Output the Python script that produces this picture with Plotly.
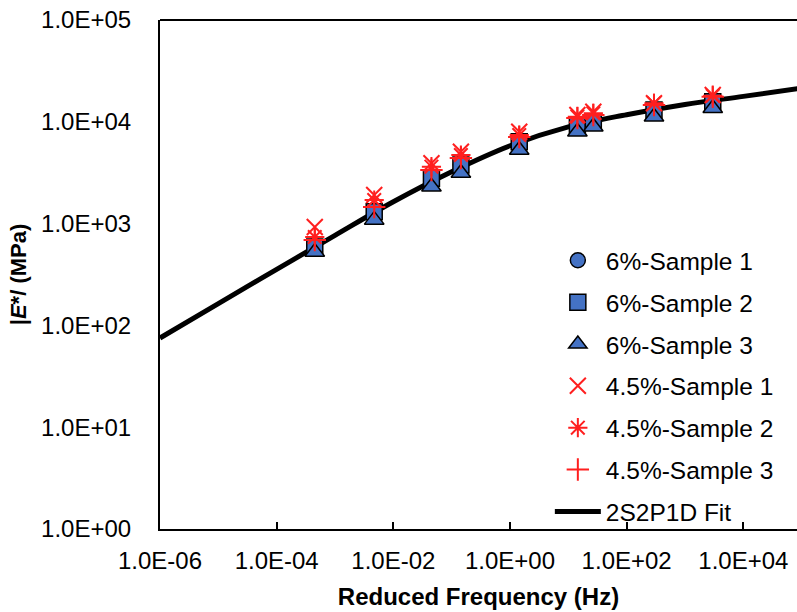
import plotly.graph_objects as go

# Reduced frequency (Hz) of the measured points
freq = [4.5e-4, 4.7e-3, 0.045, 0.144, 1.44, 14.3, 26.8, 294, 2990]

# |E*| (MPa) for each sample
e_6_s1 = [600, 1330, 2830, 3800, 6450, 9400, 10100, 13200, 15900]
e_6_s2 = [589, 1309, 2786, 3764, 6380, 9300, 10020, 13060, 15750]
e_6_s3 = [526, 1087, 2305, 3140, 5284, 8000, 8950, 11220, 13580]
e_45_s1 = [926, 1910, 3911, 5086, 7998, 11660, 12560, 15200, 18330]
e_45_s2 = [738, 1706, 3625, 4720, 7418, 11220, 12110, 15200, 18000]
e_45_s3 = [690, 1456, 3362, 4410, 7090, 10900, 11660, 14620, 17600]

# 2S2P1D fitted master curve
fit_freq = [1e-6, 1e-5, 1e-4, 1e-3, 1e-2, 1e-1, 1e0, 1e1, 1e2, 1e3, 1e4, 1e5]
fit_e = [75.2, 164, 355, 767, 1641, 3236, 5821, 8913, 11750, 14790, 17780, 21430]

x_ticks = [1e-6, 1e-4, 1e-2, 1e0, 1e2, 1e4]
x_ticktext = ["1.0E-06", "1.0E-04", "1.0E-02", "1.0E+00", "1.0E+02", "1.0E+04"]
y_ticks = [1, 10, 100, 1000, 10000, 100000]
y_ticktext = ["1.0E+00", "1.0E+01", "1.0E+02", "1.0E+03", "1.0E+04", "1.0E+05"]

FONT = "Liberation Sans, Arial, sans-serif"
BLUE = "#4472C4"
RED = "#FF1F1F"

fig = go.Figure()

fig.add_trace(go.Scatter(
    x=fit_freq, y=fit_e, mode="lines", name="2S2P1D Fit",
    line=dict(color="black", width=5, shape="spline"),
    legendgroup="fit", legendrank=2000,
))

blue_series = [
    ("6%-Sample 1", e_6_s1, "circle", 15),
    ("6%-Sample 2", e_6_s2, "square", 16),
    ("6%-Sample 3", e_6_s3, "triangle-up", 17),
]
for name, vals, sym, size in blue_series:
    fig.add_trace(go.Scatter(
        x=freq, y=vals, mode="markers", name=name, legendgroup=name,
        marker=dict(symbol=sym, size=size, color=BLUE,
                    line=dict(color="black", width=1.5)),
    ))

red_series = [
    ("4.5%-Sample 1", e_45_s1, "x-thin-open", 16),
    ("4.5%-Sample 2", e_45_s2, "asterisk-open", 16),
    ("4.5%-Sample 3", e_45_s3, "cross-thin-open", 16),
]
for name, vals, sym, size in red_series:
    fig.add_trace(go.Scatter(
        x=freq, y=vals, mode="markers", name=name, legendgroup=name,
        marker=dict(symbol=sym, size=size, color=RED,
                    line=dict(color=RED, width=2)),
    ))

fig.update_layout(
    width=797, height=612,
    margin=dict(l=160, r=0, t=20, b=83),
    paper_bgcolor="white", plot_bgcolor="white",
    font=dict(family=FONT, size=24, color="black"),
    showlegend=True,
    legend=dict(
        x=0.612, y=0.572, xanchor="left", yanchor="top",
        bgcolor="rgba(0,0,0,0)", traceorder="grouped",
        tracegroupgap=7, itemwidth=46, font=dict(size=24.5),
    ),
    xaxis=dict(
        type="log", range=[-6, 4.92],
        tickvals=x_ticks, ticktext=x_ticktext,
        ticks="inside", ticklen=7, tickwidth=2, tickcolor="black",
        showline=True, linecolor="black", linewidth=2,
        showgrid=False, zeroline=False,
        ticklabelstandoff=9,
        title=dict(text="<b>Reduced Frequency (Hz)</b>",
                   font=dict(size=24), standoff=15),
    ),
    yaxis=dict(
        type="log", range=[0, 5],
        tickvals=y_ticks, ticktext=y_ticktext,
        ticks="",
        showline=True, linecolor="black", linewidth=2,
        showgrid=False, zeroline=False,
        ticklabelstandoff=22,
        title=dict(text="<b>|<i>E</i>*/ (MPa)</b>",
                   font=dict(size=22), standoff=8),
    ),
    shapes=[dict(type="line", xref="paper", yref="paper",
                 x0=0, x1=1, y0=1, y1=1,
                 line=dict(color="black", width=2))],
)

fig.write_html("out.html")
